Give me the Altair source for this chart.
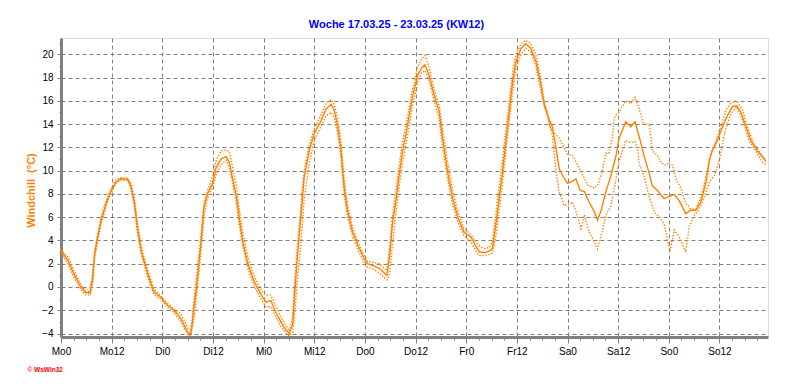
import json
import altair as alt
import pandas as pd

ORANGE = "#ff8000"
FONT = "Liberation Sans"

day_names = ["Mo", "Di", "Mi", "Do", "Fr", "Sa", "So"]

main_hours = [0, 1.6, 3.1, 4.7, 5.9, 6.9, 7.5, 8.0, 8.7, 9.5, 10.7, 11.8, 13.0, 14.2, 15.8, 16.6, 17.4, 18.1, 19.0, 20.1,
              21.3, 22.1, 23.7, 25.3, 26.8, 28.4, 30.0, 30.8, 31.6, 32.4, 33.2, 33.9, 34.7, 35.9, 36.7, 37.9, 39.1, 39.9,
              40.6, 41.5, 42.2, 43.0, 44.2, 45.4, 46.6, 47.8, 48.6, 49.7, 50.9, 52.1, 53.3, 54.1, 54.9, 55.3, 56.0, 56.9,
              57.6, 58.8, 60.0, 61.6, 62.8, 64.0, 64.7, 65.5, 66.3, 67.1, 67.9, 69.1, 70.3, 71.8, 72.6, 74.2, 75.4, 76.6,
              77.2, 77.8, 78.5, 79.4, 80.1, 80.9, 82.1, 83.3, 84.5, 85.4, 86.2, 87.2, 88.4, 89.6, 90.4, 91.6, 92.8, 94.0,
              95.5, 97.1, 98.3, 99.2, 100.4, 101.5, 102.2, 103.0, 103.8, 104.6, 105.4, 106.2, 107.0, 107.8, 109.0, 110.1,
              111.3, 112.5, 113.7, 114.5, 115.7, 116.4, 117.3, 118.0, 118.8, 120.0, 121.2, 122.0, 123.0, 124.0, 125.1,
              126.3, 127.1, 127.9, 129.1, 130.3, 131.5, 132.2, 133.8, 135.0, 136.0, 137.0, 138.2, 139.4, 140.1, 141.3,
              142.9, 144.1, 145.3, 146.5, 148.0, 149.2, 150.4, 151.6, 152.8, 153.6, 154.3, 155.5, 156.7, 157.9, 159.1,
              160.1, 161.1, 162.3, 163.4, 165.0, 167.0]
main_vals = [3.1, 2.3, 1.1, 0.0, -0.5, -0.5, 0.8, 2.9, 4.3, 5.7, 7.2, 8.2, 9.0, 9.3, 9.25, 8.6, 7.2, 5.1, 3.1, 1.7,
             0.3, -0.45, -0.9, -1.6, -2.0, -2.7, -3.9, -4.0, -1.45, 1.0, 4.0, 6.9, 8.0, 8.9, 10.2, 11.0, 11.2, 10.7,
             9.4, 7.9, 6.0, 4.0, 2.1, 0.8, -0.15, -0.9, -1.3, -1.15, -2.2, -3.0, -3.7, -4.0, -3.2, -0.9, 2.6, 6.3,
             9.4, 11.7, 13.2, 14.3, 15.3, 15.7, 15.2, 13.9, 11.9, 8.5, 6.5, 4.7, 3.6, 2.45, 2.0, 1.8, 1.6, 1.2,
             1.0, 2.45, 5.3, 7.6, 9.6, 11.6, 13.9, 16.4, 18.2, 18.8, 19.1, 18.2, 16.5, 15.1, 12.8, 9.9, 7.6, 6.0,
             4.7, 4.3, 3.5, 3.0, 2.95, 3.1, 3.3, 5.3, 7.6, 9.9, 12.5, 15.1, 17.65, 19.4, 20.5, 20.9,
             20.5, 19.4, 17.4, 15.6, 14.35, 13.8, 11.9, 10.2, 9.6, 8.9, 9.1, 9.3, 8.3, 8.2, 7.3,
             6.5, 5.75, 6.5, 8.2, 9.6, 11.3, 12.75, 14.2, 13.75, 14.2, 12.9, 11.2, 9.7, 8.7, 8.3,
             7.6, 7.8, 7.95, 7.4, 6.3, 6.6, 6.6, 7.3, 9.0, 10.9, 11.7, 12.6, 13.75, 14.75, 15.5,
             15.6, 15.0, 13.75, 12.6, 11.7, 10.8]

max_hours = [0, 1.6, 3.1, 4.7, 5.9, 6.9, 7.5, 8.0, 8.7, 9.5, 10.7, 11.8, 13.0, 14.2, 15.8, 16.6, 17.4, 18.1, 19.0, 20.1,
             21.3, 22.1, 23.7, 25.3, 26.8, 28.4, 30.0, 30.8, 31.6, 32.4, 33.2, 33.9, 34.7, 35.9, 36.7, 37.9, 39.1, 39.9,
             40.6, 41.5, 42.2, 43.0, 44.2, 45.4, 46.6, 47.8, 48.6, 49.7, 50.9, 52.1, 53.3, 54.1, 54.9, 55.3, 56.0, 56.9,
             57.6, 58.8, 60.0, 61.6, 62.8, 64.0, 64.7, 65.5, 66.3, 67.1, 67.9, 69.1, 70.3, 71.8, 72.6, 74.2, 75.4, 76.6,
             77.2, 77.8, 78.5, 79.4, 80.1, 80.9, 82.1, 83.3, 84.5, 85.4, 86.2, 87.2, 88.4, 89.6, 90.4, 91.6, 92.8, 94.0,
             95.5, 97.1, 98.3, 99.2, 100.4, 101.5, 102.2, 103.0, 103.8, 104.6, 105.4, 106.2, 107.0, 107.8, 109.0, 110.1,
             111.3, 112.5, 113.7, 114.5, 115.5, 116.0, 118.0, 120.0, 121.2, 122.8, 124.8, 126.3, 127.2, 128.2, 129.1,
             129.8, 130.6, 131.1, 131.5, 132.2, 133.8, 135.0, 136.0, 137.0, 138.0, 139.4, 140.1, 141.3, 142.1, 143.3,
             144.1, 144.9, 145.7, 146.9, 148.0, 149.2, 150.4, 151.6, 152.8, 154.0, 155.2, 156.3, 157.5, 158.7, 160.1,
             161.5, 162.6, 164.2, 165.8, 167.0]
max_vals = [3.2, 2.6, 1.4, 0.2, -0.4, -0.4, 1.2, 3.2, 4.6, 6.0, 7.4, 8.4, 9.2, 9.4, 9.35, 8.9, 7.6, 5.6, 3.5, 2.0,
            0.6, -0.2, -0.8, -1.4, -1.9, -2.3, -3.5, -3.8, -0.8, 1.8, 4.6, 7.3, 8.3, 9.5, 10.8, 11.7, 11.8, 11.6,
            10.4, 8.8, 6.8, 4.8, 2.7, 1.3, 0.3, -0.5, -0.7, -0.7, -1.6, -2.6, -3.3, -3.8, -2.5, 0.2, 3.6, 7.2,
            10.0, 12.2, 13.6, 14.8, 15.8, 16.1, 15.7, 14.6, 12.6, 9.2, 7.0, 5.1, 3.9, 2.7, 2.2, 2.1, 2.0, 1.6,
            1.4, 3.2, 6.0, 8.4, 10.4, 12.4, 14.6, 17.0, 18.9, 19.6, 19.9, 18.9, 17.0, 15.6, 13.6, 10.8, 8.3, 6.5,
            5.0, 4.5, 3.9, 3.5, 3.3, 3.4, 3.9, 6.2, 8.6, 10.9, 13.5, 16.0, 18.4, 20.0, 20.9, 21.2,
            20.9, 20.0, 17.8, 15.9, 14.6, 13.6, 12.8, 11.4, 11.3, 10.2, 8.75, 8.5, 8.8, 9.9, 11.5,
            11.5, 12.8, 14.5, 14.8, 15.0, 16.0, 15.75, 16.3, 15.3, 14.0, 14.0, 11.7, 11.3, 10.7, 10.45,
            10.7, 10.45, 9.3, 8.45, 7.2, 6.7, 6.7, 7.7, 9.45, 11.45, 12.6, 13.75, 15.2, 15.8, 16.0,
            15.2, 13.75, 12.3, 11.45, 10.9]

min_hours = [0, 1.6, 3.1, 4.7, 5.9, 6.9, 7.5, 8.0, 8.7, 9.5, 10.7, 11.8, 13.0, 14.2, 15.8, 16.6, 17.4, 18.1, 19.0, 20.1,
             21.3, 22.1, 23.7, 25.3, 26.8, 28.4, 30.0, 30.8, 31.6, 32.4, 33.2, 33.9, 34.7, 35.9, 36.7, 37.9, 39.1, 39.9,
             40.6, 41.5, 42.2, 43.0, 44.2, 45.4, 46.6, 47.8, 48.6, 49.7, 50.9, 52.1, 53.3, 54.1, 54.9, 55.3, 56.0, 56.9,
             57.6, 58.8, 60.0, 61.6, 62.8, 64.0, 64.7, 65.5, 66.3, 67.1, 67.9, 69.1, 70.3, 71.8, 72.6, 74.2, 75.4, 76.6,
             77.2, 77.8, 78.5, 79.4, 80.1, 80.9, 82.1, 83.3, 84.5, 85.4, 86.2, 87.2, 88.4, 89.6, 90.4, 91.6, 92.8, 94.0,
             95.5, 97.1, 98.3, 99.2, 100.4, 101.5, 102.2, 103.0, 103.8, 104.6, 105.4, 106.2, 107.0, 107.8, 109.0, 110.1,
             111.3, 112.5, 113.7, 114.9, 116.4, 117.3, 118.0, 119.2, 120.4, 121.2, 122.0, 123.2, 124.0, 125.1, 126.3,
             127.1, 128.0, 129.1, 130.3, 131.5, 132.2, 133.8, 135.0, 136.0, 136.6, 137.0, 138.2, 139.4, 140.6, 141.8,
             142.9, 143.7, 144.3, 145.3, 146.5, 147.2, 148.0, 148.8, 150.0, 151.2, 152.4, 153.6, 154.8, 156.0, 157.2,
             158.7, 160.1, 161.5, 163.0, 164.6, 166.2, 167.0]
min_vals = [2.9, 2.0, 0.8, -0.2, -0.7, -0.7, 0.3, 2.5, 4.0, 5.4, 7.0, 8.0, 8.9, 9.2, 9.15, 8.4, 6.9, 4.7, 2.8, 1.4,
            0.0, -0.7, -1.1, -1.8, -2.2, -3.0, -4.1, -4.2, -2.5, 0.2, 3.2, 6.2, 7.6, 8.5, 9.6, 10.5, 10.9, 10.3,
            9.0, 7.3, 5.5, 3.6, 1.7, 0.4, -0.5, -1.3, -1.7, -1.7, -2.6, -3.4, -4.0, -4.2, -3.9, -2.5, 0.5, 4.0,
            7.5, 10.6, 12.6, 13.8, 14.7, 15.0, 14.6, 13.3, 11.2, 7.9, 6.0, 4.3, 3.2, 2.1, 1.7, 1.5, 1.2, 0.8,
            0.6, 1.0, 3.5, 6.5, 8.6, 10.6, 13.0, 15.6, 17.6, 18.4, 18.6, 17.8, 16.0, 14.4, 12.0, 9.3, 7.1, 5.6,
            4.4, 3.9, 3.1, 2.7, 2.7, 2.8, 2.9, 4.3, 6.6, 9.0, 11.6, 14.2, 16.8, 18.7, 20.0, 20.5,
            20.2, 19.0, 16.8, 15.1, 13.1, 9.9, 8.2, 7.0, 7.1, 7.3, 6.5, 5.0, 6.2, 4.75, 3.9,
            3.25, 4.45, 6.2, 7.0, 9.3, 10.8, 12.6, 12.4, 12.5, 11.9, 10.6, 9.45, 7.7, 6.4, 6.0,
            5.4, 4.0, 3.1, 4.9, 4.3, 3.7, 3.0, 5.1, 6.15, 6.7, 7.7, 9.0, 9.6, 10.9, 13.2,
            14.9, 15.5, 14.3, 12.6, 11.7, 10.7, 10.5]

df_main = pd.DataFrame({"h": main_hours, "v": main_vals})
df_max = pd.DataFrame({"h": max_hours, "v": max_vals})
df_min = pd.DataFrame({"h": min_hours, "v": min_vals})

x_ticks = [i * 3 for i in range(56)]
y_ticks = list(range(-4, 22))

label_expr = ("datum.value % 12 === 0 ? " + json.dumps(day_names) +
              "[floor(datum.value / 24)] + (datum.value % 24) : ''")

x_axis = alt.Axis(
    values=x_ticks, labelExpr=label_expr, title="\u00a9 WsWin32",
    titleColor="#ff0000", titleFontSize=6.5, titleFontWeight="bold", titleFont=FONT,
    titleX=-34, titleY=34, titleAlign="left", titleBaseline="alphabetic", titleAnchor="start",
    grid=True, gridColor="#808080", gridDash=[4, 3], gridWidth=1,
    gridOpacity={"condition": {"test": "datum.value % 12 === 0", "value": 1}, "value": 0},
    tickSize={"condition": {"test": "datum.value % 12 === 0", "value": 6}, "value": 3},
    tickColor="#808080", tickWidth=1,
    domainColor="#808080", domainWidth=3,
    labelFont=FONT, labelFontSize=10, labelColor="#000000", labelPadding=3,
    labelOverlap=False, labelFlush=False,
)
y_axis = alt.Axis(
    values=y_ticks, labelExpr="datum.value % 2 === 0 ? datum.label : ''",
    title="Windchill\u00a0 (\u00b0C)", titleColor=ORANGE, titleFontSize=11, titleFontWeight="bold",
    titleFont=FONT, titleX=-25, titleY=152, titleAngle=-90, titleAlign="center", titleBaseline="bottom",
    grid=True, gridColor="#808080", gridDash=[4, 3], gridWidth=1,
    gridOpacity={"condition": {"test": "datum.value % 2 === 0", "value": 1}, "value": 0},
    tickSize={"condition": {"test": "datum.value % 2 === 0", "value": 4}, "value": 2},
    tickColor="#808080", tickWidth=1,
    domainColor="#808080", domainWidth=3,
    labelFont=FONT, labelFontSize=10, labelColor="#000000", labelPadding=4,
    labelOverlap=False,
)

xs = alt.Scale(domain=[0, 167.5], nice=False, zero=False)
ys = alt.Scale(domain=[-4.3, 21.4], nice=False, zero=False)

dotted = dict(color=ORANGE, strokeWidth=1.4, strokeDash=[1.4, 1.6], strokeCap="butt")

max_line = alt.Chart(df_max).mark_line(**dotted).encode(
    x=alt.X("h:Q", scale=xs, axis=x_axis), y=alt.Y("v:Q", scale=ys, axis=y_axis))
min_line = alt.Chart(df_min).mark_line(**dotted).encode(
    x=alt.X("h:Q", scale=xs, axis=x_axis), y=alt.Y("v:Q", scale=ys, axis=y_axis))
main_line = alt.Chart(df_main).mark_line(color=ORANGE, strokeWidth=1.4).encode(
    x=alt.X("h:Q", scale=xs, axis=x_axis), y=alt.Y("v:Q", scale=ys, axis=y_axis))

chart = alt.layer(max_line, min_line, main_line).properties(
    width=707, height=299,
    title=alt.TitleParams(
        "Woche 17.03.25 - 23.03.25 (KW12)", anchor="middle", dx=-18, offset=8,
        fontSize=11, fontWeight="bold", color="#0000ff", font=FONT),
    padding={"left": 53, "top": 30, "right": 16, "bottom": 40},
    autosize="none",
).configure_view(stroke="#000000", strokeWidth=1.5).configure(background="#ffffff")

chart.save("out.html", embed_options={"renderer": "svg", "actions": False})
